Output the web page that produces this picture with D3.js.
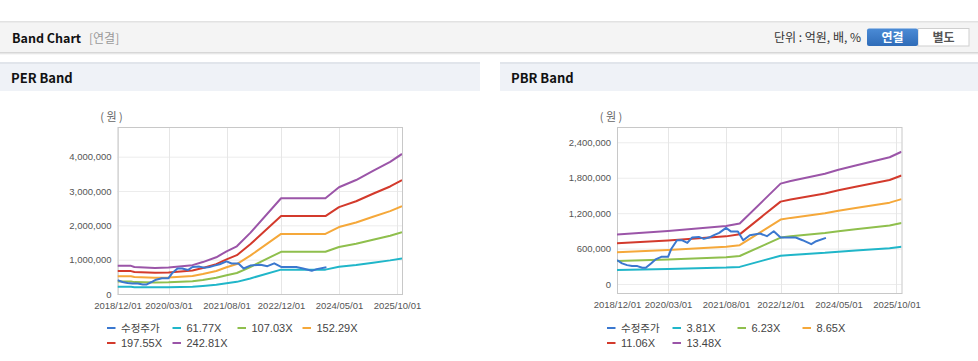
<!DOCTYPE html>
<html><head><meta charset="utf-8">
<script src="https://cdn.jsdelivr.net/npm/d3@7"></script>
<style>
html,body{margin:0;padding:0;background:#fff;}
svg{display:block;}
</style></head>
<body><svg id="c" width="978" height="361"></svg>
<script>
// ---------- DATA ----------
const xTickLabels = ["2018/12/01","2020/03/01","2021/08/01","2022/12/01","2024/05/01","2025/10/01"];
const perYTicks = [0,1000000,2000000,3000000,4000000];
const pbrYTicks = [0,600000,1200000,1800000,2400000];

const priceDates = ["2018-12-01","2019-01-15","2019-03-01","2019-04-15","2019-06-01","2019-07-15","2019-08-15","2019-10-01","2019-11-10","2020-01-01","2020-03-01","2020-04-01","2020-05-20","2020-07-01","2020-08-20","2020-10-01","2020-12-01","2021-01-15","2021-03-01","2021-04-15","2021-06-01","2021-08-01","2021-09-15","2021-11-15","2022-01-01","2022-03-01","2022-06-01","2022-08-01","2022-10-01","2022-12-01","2023-04-15","2023-06-15","2023-09-01","2023-10-15","2024-01-10"];
const priceValues = [405000,349000,320000,304000,304000,275000,275000,349000,416000,461000,461000,602000,742000,742000,697000,787000,798000,764000,787000,827000,866000,950000,888000,888000,742000,827000,855000,810000,894000,787000,787000,742000,675000,725000,781000];

const perDates = ["2018-12-01","2019-04-01","2019-05-01","2019-11-01","2020-03-01","2020-10-01","2021-01-01","2021-05-01","2021-08-01","2021-11-01","2022-03-01","2022-12-01","2024-01-01","2024-05-01","2024-10-01","2025-03-01","2025-08-01","2025-11-15"];
const per61 = [208600,208600,199700,193300,195900,213700,236600,272200,315500,353600,452800,709800,709800,791200,844600,913300,979400,1038000];
const per107 = [361500,361500,346000,335000,339400,370300,409900,471700,546600,612700,784600,1229800,1229800,1370900,1463500,1582500,1697100,1798500];
const per152 = [514300,514300,492400,476700,482900,526800,583300,671100,777700,871800,1116400,1749900,1749900,1950600,2082300,2251600,2414700,2559000];
const per197 = [667000,667000,638700,618300,626500,683400,756600,870600,1008900,1130900,1448200,2269900,2269900,2530300,2701200,2920800,3132400,3319500];
const per242 = [820000,820000,785000,760000,770000,840000,930000,1070000,1240000,1390000,1780000,2790000,2790000,3110000,3320000,3590000,3850000,4080000];

const pbrDates = ["2018-12-01","2020-03-01","2021-08-01","2021-12-01","2022-07-01","2022-12-01","2023-03-01","2024-01-01","2024-05-01","2024-10-01","2025-08-01","2025-11-15"];
const pbr3 = [237000,254000,278000,290000,400000,480000,493000,528000,547000,567000,607000,633000];
const pbr6 = [388000,416000,454000,474000,655000,786000,807000,863000,894000,928000,992000,1035000];
const pbr8 = [539000,577000,631000,658000,909000,1091000,1120000,1198000,1241000,1288000,1378000,1437000];
const pbr11 = [689000,738000,807000,841000,1163000,1395000,1432000,1532000,1587000,1647000,1762000,1838000];
const pbr13 = [840000,899000,983000,1025000,1417000,1700000,1745000,1867000,1934000,2007000,2147000,2240000];

const perLegend = ["수정주가","61.77X","107.03X","152.29X","197.55X","242.81X"];
const pbrLegend = ["수정주가","3.81X","6.23X","8.65X","11.06X","13.48X"];
const seriesColors = ["#3b78cf","#20b6c9","#8fbf4d","#f5a83a","#d33a2c","#9b55a8"];

// ---------- DRAW ----------
const svg = d3.select("#c");
const KR = "'Noto Sans CJK KR','Noto Sans',sans-serif";
const NUM = "'Liberation Sans',Arial,sans-serif";
const parse = d3.timeParse("%Y-%m-%d");
const parseTick = d3.timeParse("%Y/%m/%d");

const defs = svg.append("defs");
const sh = defs.append("linearGradient").attr("id","shadow").attr("x1",0).attr("x2",0).attr("y1",0).attr("y2",1);
sh.append("stop").attr("offset","0").attr("stop-color","#cfcfcf");
sh.append("stop").attr("offset","1").attr("stop-color","#ffffff");
const bg = defs.append("linearGradient").attr("id","btn").attr("x1",0).attr("x2",0).attr("y1",0).attr("y2",1);
bg.append("stop").attr("offset","0").attr("stop-color","#4b8bd6");
bg.append("stop").attr("offset","1").attr("stop-color","#2f6cb8");

svg.append("rect").attr("x",0).attr("y",22).attr("width",978).attr("height",30).attr("fill","#f4f4f4");
svg.append("rect").attr("x",0).attr("y",21).attr("width",978).attr("height",1.5).attr("fill","#e2e2e2");
svg.append("rect").attr("x",0).attr("y",52).attr("width",978).attr("height",3).attr("fill","url(#shadow)");
svg.append("text").attr("x",12).attr("y",43).attr("font-family",KR).attr("font-weight","bold").attr("font-size",12.5).attr("fill","#111").text("Band Chart");
svg.append("text").attr("x",89).attr("y",43).attr("font-family",KR).attr("font-size",12).attr("fill","#999").text("[연결]");
svg.append("text").attr("x",861).attr("y",42).attr("text-anchor","end").attr("font-family",KR).attr("font-size",12).attr("fill","#333").text("단위 : 억원, 배, %");
svg.append("rect").attr("x",918).attr("y",28.5).attr("width",51).attr("height",17.5).attr("fill","#fff").attr("stroke","#cfcfcf");
svg.append("rect").attr("x",867).attr("y",28.5).attr("width",51).attr("height",17.5).attr("rx",2).attr("fill","url(#btn)");
svg.append("text").attr("x",892.5).attr("y",41.5).attr("text-anchor","middle").attr("font-family",KR).attr("font-weight","bold").attr("font-size",12).attr("fill","#fff").text("연결");
svg.append("text").attr("x",943.5).attr("y",41.5).attr("text-anchor","middle").attr("font-family",KR).attr("font-weight","bold").attr("font-size",12).attr("fill","#555").text("별도");

function panel(x, w, title){
  svg.append("rect").attr("x",x).attr("y",62).attr("width",w).attr("height",29).attr("fill","#eff2f7");
  svg.append("rect").attr("x",x).attr("y",62).attr("width",w).attr("height",2).attr("fill","#e1e5eb");
  svg.append("text").attr("x",x+11).attr("y",83).attr("font-family",KR).attr("font-weight","bold").attr("font-size",13).attr("fill","#111").text(title);
}
panel(0,480,"PER Band");
panel(500,478,"PBR Band");

function drawChart(opt){
  const g = svg.append("g");
  const x = d3.scaleTime().domain([parse("2018-12-01"), parse("2025-11-15")]).range([opt.left, opt.right]);
  const y = d3.scaleLinear().domain(opt.yDomain).range([opt.bottom, opt.top]);
  const xt = xTickLabels.map(parseTick);
  g.append("g").selectAll("line").data(opt.yTicks).join("line")
    .attr("x1",opt.left).attr("x2",opt.right).attr("y1",d=>y(d)+0.5).attr("y2",d=>y(d)+0.5)
    .attr("stroke","#ececec");
  g.append("g").selectAll("line").data(xt).join("line")
    .attr("x1",d=>Math.round(x(d))+0.5).attr("x2",d=>Math.round(x(d))+0.5).attr("y1",opt.top).attr("y2",opt.bottom)
    .attr("stroke","#e6e6e6");
  g.append("rect").attr("x",opt.left+0.5).attr("y",opt.top+0.5).attr("width",opt.right-opt.left).attr("height",opt.bottom-opt.top)
    .attr("fill","none").attr("stroke","#c8c8c8");
  const ya = g.append("g").attr("transform",`translate(${opt.left},0)`)
    .call(d3.axisLeft(y).tickValues(opt.yTicks).tickFormat(d3.format(",")).tickSize(0).tickPadding(6));
  ya.select(".domain").remove();
  ya.selectAll("text").attr("font-family",NUM).attr("font-size",9.5).attr("fill","#555");
  const xa = g.append("g").attr("transform",`translate(0,${opt.bottom})`)
    .call(d3.axisBottom(x).tickValues(xt).tickFormat(d3.timeFormat("%Y/%m/%d")).tickSize(0).tickPadding(8));
  xa.select(".domain").remove();
  xa.selectAll("text").attr("font-family",NUM).attr("font-size",9.5).attr("fill","#555");
  g.append("text").attr("x",opt.left-6).attr("y",121).attr("text-anchor","middle").attr("font-family",KR).attr("font-size",11).attr("fill","#666").text("( 원 )");
  const clipId = "clip"+opt.left;
  defs.append("clipPath").attr("id",clipId).append("rect").attr("x",opt.left).attr("y",opt.top).attr("width",opt.right-opt.left).attr("height",opt.bottom-opt.top);
  const lg = g.append("g").attr("clip-path",`url(#${clipId})`);
  const line = d3.line().x(d=>x(d[0])).y(d=>y(d[1]));
  opt.series.slice().reverse().forEach((s,i)=>{
    const idx = opt.series.length-1-i;
    lg.append("path").datum(s.dates.map((d,k)=>[parse(d), s.values[k]]))
      .attr("d",line).attr("fill","none").attr("stroke",seriesColors[idx]).attr("stroke-width",2).attr("stroke-linejoin","round");
  });
  const cols = [0,65.5,130.5,195.5];
  opt.legend.forEach((name,i)=>{
    const lx = opt.legendX + cols[i%4];
    const ly = i<4 ? 328 : 343;
    const isKr = /[\uac00-\ud7a3]/.test(name);
    g.append("line").attr("x1",lx).attr("x2",lx+8.5).attr("y1",ly).attr("y2",ly).attr("stroke",seriesColors[i]).attr("stroke-width",2);
    g.append("text").attr("x",lx+14).attr("y",ly+4).attr("font-family",isKr?KR:NUM).attr("font-size",isKr?10.5:11).attr("fill","#444").text(name);
  });
}

drawChart({
  left:117.5, right:402, top:127, bottom:294,
  yDomain:[0,4865000], yTicks:perYTicks, legend:perLegend, legendX:107,
  series:[
    {dates:priceDates, values:priceValues},
    {dates:perDates, values:per61},
    {dates:perDates, values:per107},
    {dates:perDates, values:per152},
    {dates:perDates, values:per197},
    {dates:perDates, values:per242}
  ]
});
drawChart({
  left:617, right:901.5, top:127, bottom:293,
  yDomain:[-152000,2659000], yTicks:pbrYTicks, legend:pbrLegend, legendX:607,
  series:[
    {dates:priceDates, values:priceValues},
    {dates:pbrDates, values:pbr3},
    {dates:pbrDates, values:pbr6},
    {dates:pbrDates, values:pbr8},
    {dates:pbrDates, values:pbr11},
    {dates:pbrDates, values:pbr13}
  ]
});
</script></body></html>
